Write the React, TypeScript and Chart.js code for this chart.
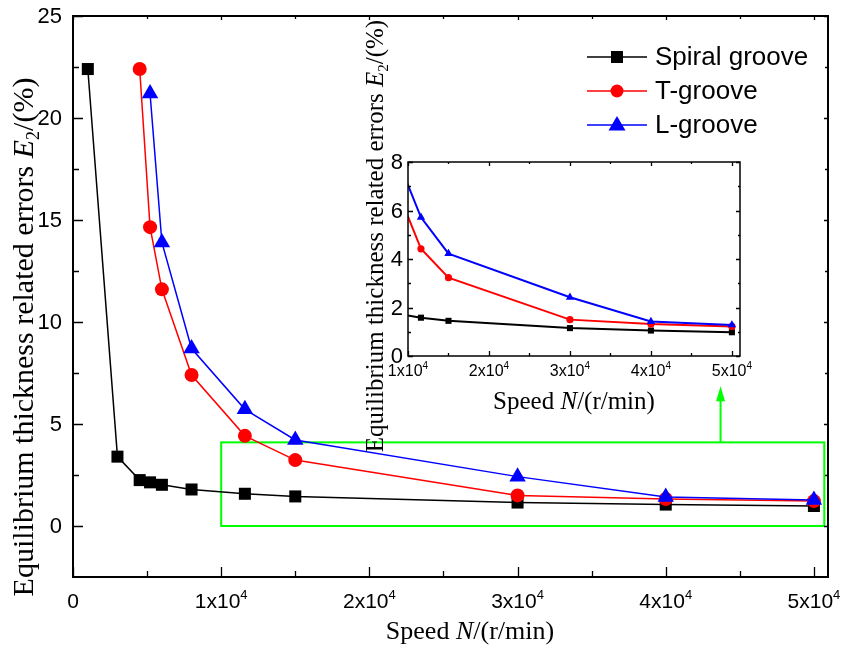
import React, { useEffect, useRef } from "react";
import { Chart, registerables } from "chart.js";
Chart.register(...registerables);

// ---------------- data ----------------
const SERIES_NAMES = ["Spiral groove", "T-groove", "L-groove"];
const SPIRAL_X = [1000, 3000, 4500, 5200, 6000, 8000, 11600, 15000, 30000, 40000, 50000];
const SPIRAL_Y = [22.4, 3.4, 2.25, 2.14, 2.02, 1.79, 1.58, 1.45, 1.15, 1.05, 0.98];
const T_X = [4500, 5200, 6000, 8000, 11600, 15000, 30000, 40000, 50000];
const T_Y = [22.4, 14.65, 11.6, 7.4, 4.42, 3.23, 1.5, 1.32, 1.22];
const L_X = [5200, 6000, 8000, 11600, 15000, 30000, 40000, 50000];
const L_Y = [21.2, 13.9, 8.7, 5.72, 4.22, 2.42, 1.42, 1.28];

const MAIN_X_TICKS = [0, 10000, 20000, 30000, 40000, 50000];
const MAIN_X_TICK_LABELS = ["0", "1x10^4", "2x10^4", "3x10^4", "4x10^4", "5x10^4"];
const MAIN_X_MINOR = [5000, 15000, 25000, 35000, 45000];
const MAIN_Y_TICKS = [0, 5, 10, 15, 20, 25];
const MAIN_Y_TICK_LABELS = ["0", "5", "10", "15", "20", "25"];
const MAIN_Y_MINOR = [2.5, 7.5, 12.5, 17.5, 22.5];

const INSET_X_TICKS = [10000, 20000, 30000, 40000, 50000];
const INSET_X_TICK_LABELS = ["1x10^4", "2x10^4", "3x10^4", "4x10^4", "5x10^4"];
const INSET_X_MINOR = [15000, 25000, 35000, 45000];
const INSET_Y_TICKS = [0, 2, 4, 6, 8];
const INSET_Y_TICK_LABELS = ["0", "2", "4", "6", "8"];
const INSET_Y_MINOR = [1, 3, 5, 7];

const MAIN_X_RANGE = [0, 50950];
const MAIN_Y_RANGE = [-2.5, 25];
const INSET_X_RANGE = [10000, 51000];
const INSET_Y_RANGE = [0, 8];

const ZOOM_BOX_X = [10000, 50700];
const ZOOM_BOX_Y = [0, 4.1];
const ARROW_X = 43700;
const ARROW_Y = [4.1, 6.85];

const X_TITLE = ["Speed ", "N", "/(r/min)"];
const Y_TITLE = ["Equilibrium thickness related errors ", "E", "2", "/(%)"];

// ---------------- helpers ----------------
const SANS = '"Liberation Sans", Arial, sans-serif';
const SERIF = '"Liberation Serif", "Times New Roman", serif';

type Part = { t: string; font: string; dy?: number };

function drawRich(ctx: CanvasRenderingContext2D, parts: Part[], x: number, y: number, align: "left" | "center" | "right") {
  ctx.save();
  ctx.textAlign = "left";
  ctx.textBaseline = "alphabetic";
  let total = 0;
  const widths: number[] = [];
  for (const p of parts) {
    ctx.font = p.font;
    const w = ctx.measureText(p.t).width;
    widths.push(w);
    total += w;
  }
  let cx = align === "center" ? x - total / 2 : align === "right" ? x - total : x;
  parts.forEach((p, i) => {
    ctx.font = p.font;
    ctx.fillText(p.t, cx, y + (p.dy || 0));
    cx += widths[i];
  });
  ctx.restore();
}

function supParts(label: string, size: number, supSize: number, supDy: number): Part[] {
  const [base, sup] = label.split("^");
  const parts: Part[] = [{ t: base, font: `${size}px ${SANS}` }];
  if (sup) parts.push({ t: sup, font: `${supSize}px ${SANS}`, dy: supDy });
  return parts;
}

function xTitleParts(size: number): Part[] {
  return [
    { t: X_TITLE[0], font: `${size}px ${SERIF}` },
    { t: X_TITLE[1], font: `italic ${size}px ${SERIF}` },
    { t: X_TITLE[2], font: `${size}px ${SERIF}` },
  ];
}

function yTitleParts(size: number): Part[] {
  return [
    { t: Y_TITLE[0], font: `${size}px ${SERIF}` },
    { t: Y_TITLE[1], font: `italic ${size}px ${SERIF}` },
    { t: Y_TITLE[2], font: `${Math.round(size * 0.6)}px ${SERIF}`, dy: size * 0.2 },
    { t: Y_TITLE[3], font: `${size}px ${SERIF}` },
  ];
}

type AxisStyle = {
  frameWidth: number;
  major: number;
  minor: number;
  mirrorMajor: number;
  mirrorMinor: number;
  xTicks: number[];
  xLabels: string[];
  xMinor: number[];
  yTicks: number[];
  yLabels: string[];
  yMinor: number[];
  xLabelSize: number;
  xSupSize: number;
  xSupDy: number;
  xLabelOffset: number;
  yLabelSize: number;
  yLabelGap: number;
  xTitleSize: number;
  xTitleX: number;
  xTitleY: number;
  yTitleSize: number;
  yTitleX: number;
  yTitleY: number;
};

function axesPlugin(id: string, st: AxisStyle) {
  return {
    id,
    afterDatasetsDraw(chart: any) {
      const ctx: CanvasRenderingContext2D = chart.ctx;
      const { left, right, top, bottom } = chart.chartArea;
      const xs = chart.scales.x;
      const ys = chart.scales.y;
      ctx.save();
      ctx.strokeStyle = "#000";
      ctx.fillStyle = "#000";
      ctx.lineWidth = 1.3;
      ctx.beginPath();
      const xt = (vals: number[], len: number, mlen: number) => {
        for (const v of vals) {
          const px = Math.round(xs.getPixelForValue(v)) + 0.5;
          ctx.moveTo(px, bottom);
          ctx.lineTo(px, bottom - len);
          ctx.moveTo(px, top);
          ctx.lineTo(px, top + mlen);
        }
      };
      const yt = (vals: number[], len: number, mlen: number) => {
        for (const v of vals) {
          const py = Math.round(ys.getPixelForValue(v)) + 0.5;
          ctx.moveTo(left, py);
          ctx.lineTo(left + len, py);
          ctx.moveTo(right, py);
          ctx.lineTo(right - mlen, py);
        }
      };
      xt(st.xTicks, st.major, st.mirrorMajor);
      xt(st.xMinor, st.minor, st.mirrorMinor);
      yt(st.yTicks, st.major, st.mirrorMajor);
      yt(st.yMinor, st.minor, st.mirrorMinor);
      ctx.stroke();
      ctx.lineWidth = st.frameWidth;
      ctx.strokeRect(left, top, right - left, bottom - top);

      // tick labels
      st.xTicks.forEach((v, i) => {
        const px = xs.getPixelForValue(v);
        drawRich(ctx, supParts(st.xLabels[i], st.xLabelSize, st.xSupSize, st.xSupDy), px, bottom + st.xLabelOffset, "center");
      });
      ctx.font = `${st.yLabelSize}px ${SANS}`;
      ctx.textAlign = "right";
      ctx.textBaseline = "middle";
      st.yTicks.forEach((v, i) => {
        const py = ys.getPixelForValue(v);
        ctx.fillText(st.yLabels[i], left - st.yLabelGap, py + 1);
      });

      // titles
      drawRich(ctx, xTitleParts(st.xTitleSize), st.xTitleX, st.xTitleY, "center");
      ctx.save();
      ctx.translate(st.yTitleX, st.yTitleY);
      ctx.rotate(-Math.PI / 2);
      drawRich(ctx, yTitleParts(st.yTitleSize), 0, 0, "center");
      ctx.restore();
      ctx.restore();
    },
  };
}

const COLORS = ["#000000", "#ff0000", "#0000ff"];
const STYLES = ["rect", "circle", "triangle"];

function makeDatasets(radii: number[], lw: number) {
  const xs = [SPIRAL_X, T_X, L_X];
  const ys = [SPIRAL_Y, T_Y, L_Y];
  return SERIES_NAMES.map((name, i) => ({
    label: name,
    data: xs[i].map((x, j) => ({ x, y: ys[i][j] })),
    borderColor: COLORS[i],
    backgroundColor: COLORS[i],
    pointBackgroundColor: COLORS[i],
    pointBorderColor: COLORS[i],
    pointBorderWidth: 0,
    borderWidth: lw,
    pointStyle: STYLES[i],
    pointRadius: radii[i],
    tension: 0,
    order: 3 - i,
  }));
}

const zoomPlugin = {
  id: "zoomBox",
  beforeDatasetsDraw(chart: any) {
    const ctx: CanvasRenderingContext2D = chart.ctx;
    const xs = chart.scales.x;
    const ys = chart.scales.y;
    const x0 = xs.getPixelForValue(ZOOM_BOX_X[0]);
    const x1 = xs.getPixelForValue(ZOOM_BOX_X[1]);
    const y0 = ys.getPixelForValue(ZOOM_BOX_Y[1]);
    const y1 = ys.getPixelForValue(ZOOM_BOX_Y[0]);
    ctx.save();
    ctx.strokeStyle = "#00ff00";
    ctx.fillStyle = "#00ff00";
    ctx.lineWidth = 2;
    ctx.strokeRect(x0, y0, x1 - x0, y1 - y0);
    const ax = xs.getPixelForValue(ARROW_X);
    const ayB = ys.getPixelForValue(ARROW_Y[0]);
    const ayT = ys.getPixelForValue(ARROW_Y[1]);
    ctx.beginPath();
    ctx.moveTo(ax, ayB);
    ctx.lineTo(ax, ayT + 12);
    ctx.stroke();
    ctx.beginPath();
    ctx.moveTo(ax, ayT);
    ctx.lineTo(ax - 4.5, ayT + 15);
    ctx.lineTo(ax + 4.5, ayT + 15);
    ctx.closePath();
    ctx.fill();
    ctx.restore();
  },
};

const legendPlugin = {
  id: "customLegend",
  afterDraw(chart: any) {
    const ctx: CanvasRenderingContext2D = chart.ctx;
    const rows = [57, 91, 125];
    ctx.save();
    SERIES_NAMES.forEach((name, i) => {
      const y = rows[i];
      ctx.strokeStyle = COLORS[i];
      ctx.fillStyle = COLORS[i];
      ctx.lineWidth = 1.5;
      ctx.beginPath();
      ctx.moveTo(587, y);
      ctx.lineTo(647, y);
      ctx.stroke();
      const cx = 617;
      ctx.beginPath();
      if (STYLES[i] === "rect") {
        ctx.rect(cx - 6, y - 6, 12, 12);
      } else if (STYLES[i] === "circle") {
        ctx.arc(cx, y, 6.5, 0, Math.PI * 2);
      } else {
        ctx.moveTo(cx, y - 9);
        ctx.lineTo(cx + 8.5, y + 5.5);
        ctx.lineTo(cx - 8.5, y + 5.5);
        ctx.closePath();
      }
      ctx.fill();
      ctx.fillStyle = "#000";
      ctx.font = `26px ${SANS}`;
      ctx.textAlign = "left";
      ctx.textBaseline = "middle";
      ctx.fillText(name, 655, y + 1);
    });
    ctx.restore();
  },
};

function baseOptions(xr: number[], yr: number[], yWidth: number, xHeight: number, padding: any) {
  return {
    responsive: false,
    animation: false as const,
    events: [],
    layout: { padding },
    plugins: { legend: { display: false }, tooltip: { enabled: false }, title: { display: false } },
    scales: {
      x: {
        type: "linear" as const,
        min: xr[0],
        max: xr[1],
        grid: { display: false },
        border: { display: false },
        ticks: { display: false },
        afterFit: (s: any) => {
          s.height = xHeight;
          s.paddingLeft = 0;
          s.paddingRight = 0;
        },
      },
      y: {
        type: "linear" as const,
        min: yr[0],
        max: yr[1],
        grid: { display: false },
        border: { display: false },
        ticks: { display: false },
        afterFit: (s: any) => {
          s.width = yWidth;
          s.paddingTop = 0;
          s.paddingBottom = 0;
        },
      },
    },
  };
}

export default function App() {
  const mainRef = useRef<HTMLCanvasElement>(null);
  const insetRef = useRef<HTMLCanvasElement>(null);

  useEffect(() => {
    const main = new Chart(mainRef.current!, {
      type: "line",
      data: { datasets: makeDatasets([8.5, 7, 9.5], 1.5) as any },
      options: baseOptions(MAIN_X_RANGE, MAIN_Y_RANGE, 73, 69, { left: 0, top: 16, right: 14, bottom: 0 }) as any,
      plugins: [
        zoomPlugin,
        axesPlugin("mainAxes", {
          frameWidth: 2,
          major: 10,
          minor: 6,
          mirrorMajor: 4,
          mirrorMinor: 3,
          xTicks: MAIN_X_TICKS,
          xLabels: MAIN_X_TICK_LABELS,
          xMinor: MAIN_X_MINOR,
          yTicks: MAIN_Y_TICKS,
          yLabels: MAIN_Y_TICK_LABELS,
          yMinor: MAIN_Y_MINOR,
          xLabelSize: 21,
          xSupSize: 13,
          xSupDy: -9,
          xLabelOffset: 31,
          yLabelSize: 22,
          yLabelGap: 11,
          xTitleSize: 26,
          xTitleX: 470,
          xTitleY: 639,
          yTitleSize: 30,
          yTitleX: 33,
          yTitleY: 337,
        }),
        legendPlugin,
      ] as any,
    });
    const inset = new Chart(insetRef.current!, {
      type: "line",
      data: { datasets: makeDatasets([4.3, 3.6, 4.8], 2) as any },
      options: baseOptions(INSET_X_RANGE, INSET_Y_RANGE, 408, 290, { left: 0, top: 162, right: 102, bottom: 0 }) as any,
      plugins: [
        axesPlugin("insetAxes", {
          frameWidth: 1.5,
          major: 5,
          minor: 3,
          mirrorMajor: 4,
          mirrorMinor: 2,
          xTicks: INSET_X_TICKS,
          xLabels: INSET_X_TICK_LABELS,
          xMinor: INSET_X_MINOR,
          yTicks: INSET_Y_TICKS,
          yLabels: INSET_Y_TICK_LABELS,
          yMinor: INSET_Y_MINOR,
          xLabelSize: 16,
          xSupSize: 10,
          xSupDy: -7,
          xLabelOffset: 20,
          yLabelSize: 22,
          yLabelGap: 5,
          xTitleSize: 25,
          xTitleX: 574,
          xTitleY: 409,
          yTitleSize: 25,
          yTitleX: 383,
          yTitleY: 236,
        }),
      ] as any,
    });
    return () => {
      main.destroy();
      inset.destroy();
    };
  }, []);

  return (
    <div style={{ position: "absolute", left: 0, top: 0, width: 842, height: 646, background: "#fff", overflow: "hidden" }}>
      <canvas ref={mainRef} width={842} height={646} style={{ position: "absolute", left: 0, top: 0 }} />
      <canvas ref={insetRef} width={842} height={646} style={{ position: "absolute", left: 0, top: 0 }} />
    </div>
  );
}
